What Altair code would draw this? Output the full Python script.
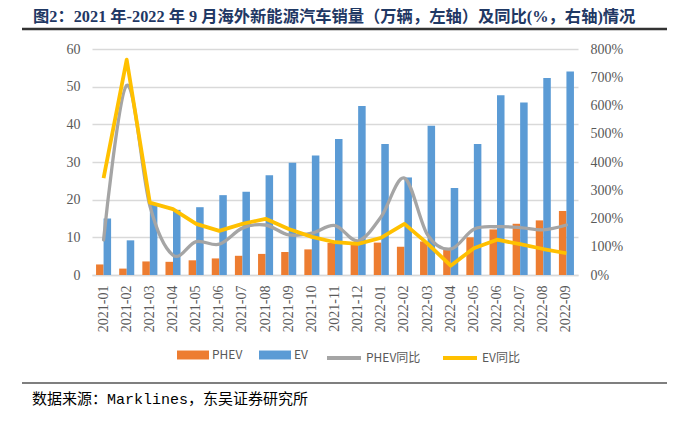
import altair as alt
import pandas as pd

months = ["2021-01", "2021-02", "2021-03", "2021-04", "2021-05", "2021-06", "2021-07",
          "2021-08", "2021-09", "2021-10", "2021-11", "2021-12", "2022-01", "2022-02",
          "2022-03", "2022-04", "2022-05", "2022-06", "2022-07", "2022-08", "2022-09"]
phev = [2.8, 1.7, 3.6, 3.5, 3.9, 4.4, 5.1, 5.6, 6.1, 6.8, 8.5, 8.1, 8.6, 7.5,
        8.9, 6.7, 10.0, 12.1, 13.6, 14.5, 17.0]
ev = [15.0, 9.2, 18.6, 17.3, 18.0, 21.2, 22.1, 26.5, 29.8, 31.7, 36.1, 44.9, 34.8, 25.9,
      39.6, 23.1, 34.8, 47.7, 45.8, 52.3, 54.0]
phev_yoy = [124, 671, 245, 70, 118, 109, 166, 177, 142, 148, 175, 121, 207, 343,
            142, 92, 162, 171, 168, 160, 177]
ev_yoy = [343, 762, 256, 233, 181, 156, 181, 199, 163, 135, 116, 110, 132, 181,
          111, 33, 95, 125, 109, 92, 77]

bar_types = ["PHEV", "EV"]
bar_colors = ["#ED7D31", "#5B9BD5"]
line_series = ["PHEV同比", "EV同比"]
line_colors = ["#A5A5A5", "#FFC000"]

title_text = "图2：2021 年-2022 年 9 月海外新能源汽车销量（万辆，左轴）及同比(%，右轴)情况"
source_text = "数据来源：Marklines，东吴证券研究所"

bars_df = pd.DataFrame({
    "month": months * 2,
    "type": ["PHEV"] * len(months) + ["EV"] * len(months),
    "value": phev + ev,
})
lines_df = pd.DataFrame({
    "month": months * 2,
    "series": ["PHEV同比"] * len(months) + ["EV同比"] * len(months),
    "yoy": phev_yoy + ev_yoy,
})

LABEL = "#595959"
SERIF = "Liberation Serif"
SANS = "Noto Sans CJK SC"

x_axis = alt.Axis(title=None, labelAngle=-90, labelFont=SERIF, labelFontSize=14,
                  labelColor=LABEL, labelPadding=10, ticks=False, domainColor="#D9D9D9",
                  domainWidth=1.5, grid=False)
x_scale = alt.Scale(paddingInner=0.35, paddingOuter=0.175)
x_enc = alt.X("month:N", sort=months, scale=x_scale, axis=x_axis)

bars = alt.Chart(bars_df).mark_bar().encode(
    x=x_enc,
    xOffset=alt.XOffset("type:N", sort=bar_types, scale=alt.Scale(paddingInner=0, paddingOuter=0)),
    y=alt.Y("value:Q", scale=alt.Scale(domain=[0, 60], nice=False),
            axis=alt.Axis(title=None, orient="left", values=list(range(0, 61, 10)),
                          labelFont=SERIF, labelFontSize=14, labelColor=LABEL,
                          labelPadding=12, ticks=False, domain=False,
                          gridColor="#D9D9D9", gridWidth=1.3)),
    fill=alt.Fill("type:N", scale=alt.Scale(domain=bar_types, range=bar_colors),
                  legend=alt.Legend(title=None, orient="none", legendX=85, legendY=290,
                                    direction="horizontal", symbolType="M-1,-0.28H1V0.28H-1Z",
                                    symbolSize=1024, symbolStrokeWidth=0, labelFont=SANS,
                                    labelFontSize=12, labelColor=LABEL, labelOffset=3,
                                    columnPadding=16, padding=0)),
)

y_right = alt.Y("yoy:Q", scale=alt.Scale(domain=[0, 800], nice=False),
                axis=alt.Axis(title=None, orient="right", values=list(range(0, 801, 100)),
                              labelExpr="datum.value + '%'", labelFont=SERIF,
                              labelFontSize=14, labelColor=LABEL, labelPadding=12,
                              ticks=False, domain=False, grid=False))
stroke_enc = alt.Stroke("series:N", scale=alt.Scale(domain=line_series, range=line_colors),
                        legend=alt.Legend(title=None, orient="none", legendX=233, legendY=290,
                                          direction="horizontal", symbolType="stroke",
                                          symbolSize=1156, symbolStrokeWidth=4,
                                          labelFont=SANS, labelFontSize=12, labelColor=LABEL,
                                          labelOffset=3, columnPadding=14, padding=0))

gray_line = alt.Chart(lines_df).transform_filter(alt.datum.series == "PHEV同比").mark_line(
    interpolate="cardinal", strokeWidth=3.3, strokeCap="round").encode(
    x=x_enc, y=y_right, stroke=stroke_enc)
yellow_line = alt.Chart(lines_df).transform_filter(alt.datum.series == "EV同比").mark_line(
    strokeWidth=3.8, strokeJoin="round").encode(
    x=x_enc, y=y_right, stroke=stroke_enc)

lines = alt.layer(gray_line, yellow_line)

one = pd.DataFrame({"t": [title_text]})
src = pd.DataFrame({"t": [source_text]})

title_mark = alt.Chart(one).mark_text(align="left", baseline="middle", font=SERIF + ", " + SANS,
                                      fontSize=16.3, fontWeight="bold", color="#1F3864").encode(
    text="t:N", x=alt.value(-59), y=alt.value(-32))
source_mark = alt.Chart(src).mark_text(align="left", baseline="middle",
                                       font="Liberation Mono, " + SANS, fontSize=15,
                                       color="#000000").encode(
    text="t:N", x=alt.value(-60), y=alt.value(350))
top_rule = alt.Chart(one).mark_rule(color="#333333", strokeWidth=2.5).encode(
    x=alt.value(-70), x2=alt.value(575), y=alt.value(-20))
bottom_rule = alt.Chart(one).mark_rule(color="#000000", strokeWidth=1.2).encode(
    x=alt.value(-70), x2=alt.value(575), y=alt.value(334))

chart = alt.layer(bars, lines).resolve_scale(y="independent", fill="independent", stroke="independent")
chart = alt.layer(chart, title_mark, source_mark, top_rule, bottom_rule).properties(
    width=486, height=226,
    autosize=alt.AutoSizeParams(type="none"),
    padding={"left": 84, "top": 41, "right": 90, "bottom": 140},
    background="white",
).configure_view(strokeWidth=0)

chart.save("out.html", embed_options={"renderer": "svg", "actions": False})
